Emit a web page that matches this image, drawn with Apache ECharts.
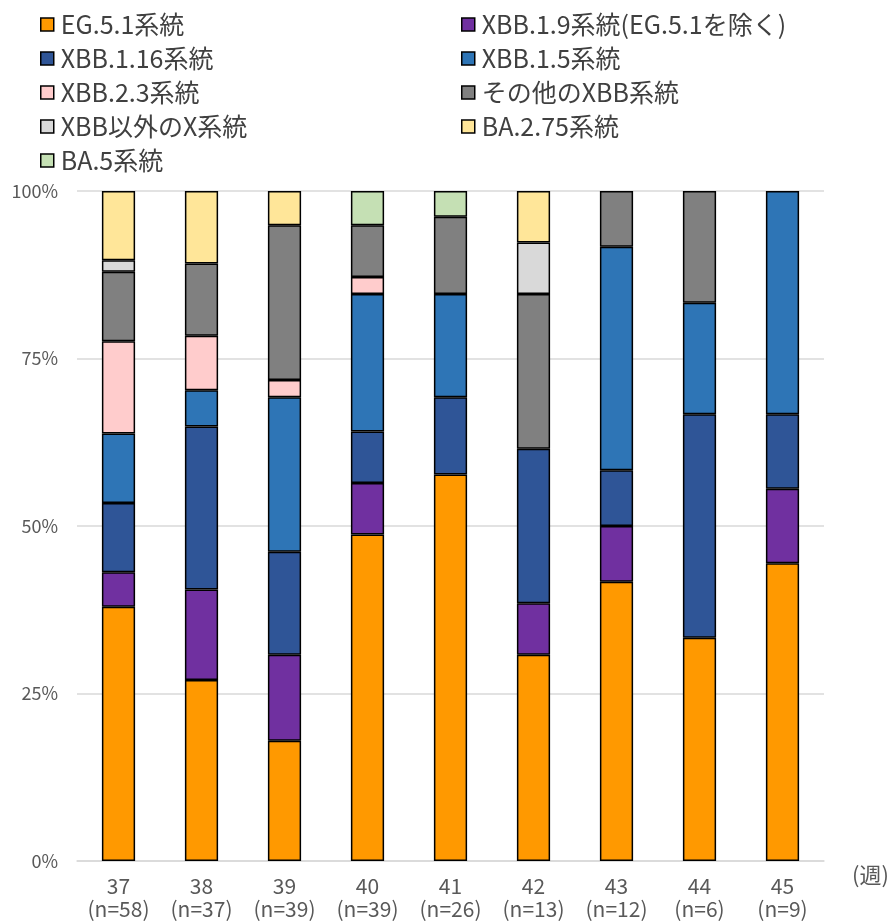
<!DOCTYPE html>
<html>
<head>
<meta charset="utf-8">
<script src="https://cdn.jsdelivr.net/npm/echarts@6/dist/echarts.min.js"></script>
<style>
html,body{margin:0;padding:0;background:#fff;}
#chart{width:893px;height:923px;}
</style>
</head>
<body>
<div id="chart"></div>
<script>
// Weekly lineage counts (week number and sample size per week)
var weeks = ['37', '38', '39', '40', '41', '42', '43', '44', '45'];
var sampleSizes = [58, 37, 39, 39, 26, 13, 12, 6, 9];

// Lineage names, stacked from bottom to top
var lineages = ['EG.5.1系統', 'XBB.1.9系統(EG.5.1を除く)', 'XBB.1.16系統', 'XBB.1.5系統',
  'XBB.2.3系統', 'その他のXBB系統', 'XBB以外のX系統', 'BA.2.75系統', 'BA.5系統'];
var lineageColors = ['#FF9900', '#7030A0', '#2F5597', '#2E75B6', '#FFCCCC',
  '#808080', '#D9D9D9', '#FFE699', '#C5E0B4'];

// Detected counts per lineage for each week
var countEG51   = [22, 10, 7, 19, 15, 4, 5, 2, 4];
var countXBB19  = [3, 5, 5, 3, 0, 1, 1, 0, 1];
var countXBB116 = [6, 9, 6, 3, 3, 3, 1, 2, 1];
var countXBB15  = [6, 2, 9, 8, 4, 0, 4, 1, 3];
var countXBB23  = [8, 3, 1, 1, 0, 0, 0, 0, 0];
var countOtherXBB = [6, 4, 9, 3, 3, 3, 1, 1, 0];
var countNonXBBX  = [1, 0, 0, 0, 0, 1, 0, 0, 0];
var countBA275  = [6, 4, 2, 0, 0, 1, 0, 0, 0];
var countBA5    = [0, 0, 0, 2, 1, 0, 0, 0, 0];

var yTickLabels = ['0%', '25%', '50%', '75%', '100%'];

var countsByLineage = [countEG51, countXBB19, countXBB116, countXBB15, countXBB23,
  countOtherXBB, countNonXBBX, countBA275, countBA5];

var categoryLabels = weeks.map(function (w, i) { return w + '\n(n=' + sampleSizes[i] + ')'; });

var FONT = '"Noto Sans CJK JP", "Noto Sans", sans-serif';

var series = lineages.map(function (name, k) {
  return {
    name: name,
    type: 'bar',
    stack: 'total',
    barWidth: '40%',
    itemStyle: { color: lineageColors[k], borderColor: '#000', borderWidth: 1.5 },
    emphasis: { disabled: true },
    data: countsByLineage[k].map(function (c, i) {
      return c === 0 ? '-' : c / sampleSizes[i] * 100;
    })
  };
});

var legendCommon = {
  orient: 'vertical',
  itemWidth: 13,
  itemHeight: 13,
  itemGap: 9,
  icon: 'rect',
  itemStyle: { borderColor: '#000', borderWidth: 1.5 },
  textStyle: { fontFamily: FONT, fontSize: 25, color: '#404040', padding: [0, 0, 0, 2] },
  selectedMode: false
};

var chart = echarts.init(document.getElementById('chart'), null, { renderer: 'canvas' });
chart.setOption({
  animation: false,
  backgroundColor: '#fff',
  legend: [
    Object.assign({ left: 35, top: 7, data: [lineages[0], lineages[2], lineages[4], lineages[6], lineages[8]] }, legendCommon),
    Object.assign({ left: 456, top: 7, data: [lineages[1], lineages[3], lineages[5], lineages[7]] }, legendCommon)
  ],
  grid: { left: 77, right: 69, top: 191, bottom: 62 },
  xAxis: {
    type: 'category',
    data: categoryLabels,
    axisTick: { show: false },
    axisLine: { lineStyle: { color: '#D9D9D9', width: 1.5 } },
    axisLabel: { fontFamily: FONT, fontSize: 21, color: '#595959', lineHeight: 23, margin: 14 }
  },
  yAxis: {
    type: 'value',
    min: 0,
    max: 100,
    interval: 25,
    axisLine: { show: false },
    axisTick: { show: false },
    splitLine: { lineStyle: { color: '#D9D9D9', width: 1.5 } },
    axisLabel: {
      fontFamily: FONT, fontSize: 18, color: '#595959', margin: 19,
      formatter: function (v) { return yTickLabels[Math.round(v / 25)]; }
    }
  },
  graphic: [{
    type: 'text',
    left: 852,
    top: 864,
    style: { text: '(週)', font: '22px ' + FONT, fill: '#595959' }
  }],
  series: series
});
</script>
</body>
</html>
